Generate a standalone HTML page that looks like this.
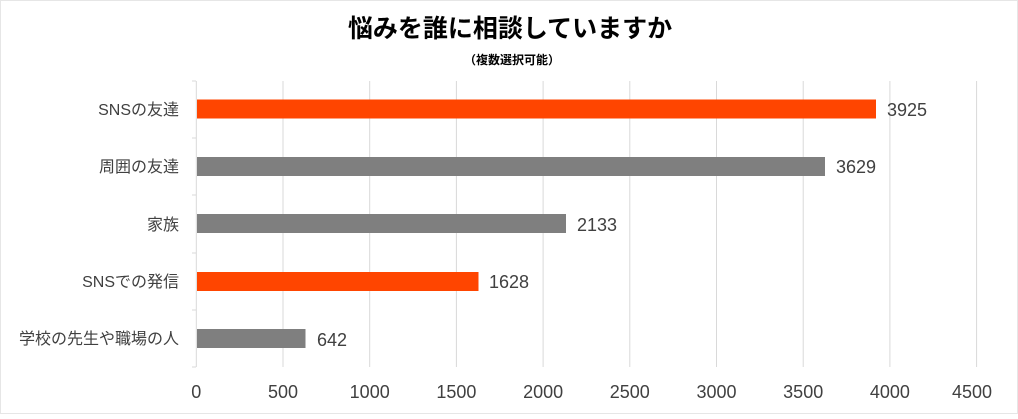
<!DOCTYPE html>
<html><head><meta charset="utf-8"><style>
body{margin:0;background:#fff;}
svg text{font-family:"Liberation Sans","Noto Sans CJK JP",sans-serif;}
</style></head><body>
<svg width="1018" height="414" xmlns="http://www.w3.org/2000/svg">
<rect x="0.5" y="0.5" width="1017" height="413" fill="#fff" stroke="#e6e6e6"/>
<text x="510" y="37" text-anchor="middle" font-size="25" font-weight="bold" fill="#000">悩みを誰に相談していますか</text>
<text x="512" y="64" text-anchor="middle" font-size="12" font-weight="bold" fill="#000">（複数選択可能）</text>
<g stroke="#d9d9d9" stroke-width="1">
<line x1="283" y1="81" x2="283" y2="367"/><line x1="369.7" y1="81" x2="369.7" y2="367"/>
<line x1="456.4" y1="81" x2="456.4" y2="367"/><line x1="543.1" y1="81" x2="543.1" y2="367"/>
<line x1="629.8" y1="81" x2="629.8" y2="367"/><line x1="716.5" y1="81" x2="716.5" y2="367"/>
<line x1="803.2" y1="81" x2="803.2" y2="367"/><line x1="889.9" y1="81" x2="889.9" y2="367"/>
<line x1="976.6" y1="81" x2="976.6" y2="367"/>
<line x1="196.3" y1="81" x2="196.3" y2="367"/>
<line x1="192" y1="81" x2="196" y2="81"/><line x1="192" y1="138" x2="196" y2="138"/>
<line x1="192" y1="195" x2="196" y2="195"/><line x1="192" y1="253" x2="196" y2="253"/>
<line x1="192" y1="310" x2="196" y2="310"/><line x1="192" y1="367" x2="196" y2="367"/>
</g>
<rect x="197" y="99.5" width="679" height="19" fill="#ff4500"/>
<rect x="197" y="157" width="628" height="19" fill="#7f7f7f"/>
<rect x="197" y="214" width="369" height="19" fill="#7f7f7f"/>
<rect x="197" y="272" width="281.5" height="19" fill="#ff4500"/>
<rect x="197" y="329" width="108.5" height="19" fill="#7f7f7f"/>
<g font-size="18" fill="#404040">
<text x="887" y="116">3925</text><text x="836" y="173">3629</text>
<text x="577" y="231">2133</text><text x="489" y="288">1628</text>
<text x="317" y="346">642</text>
</g>
<g font-size="16" fill="#404040" text-anchor="end">
<text x="179" y="115">SNSの友達</text><text x="179" y="172">周囲の友達</text>
<text x="179" y="230">家族</text><text x="179" y="287">SNSでの発信</text>
<text x="179" y="344">学校の先生や職場の人</text>
</g>
<g font-size="18" fill="#404040" text-anchor="middle">
<text x="196.3" y="398">0</text><text x="283" y="398">500</text><text x="369.7" y="398">1000</text>
<text x="456.4" y="398">1500</text><text x="543.1" y="398">2000</text><text x="629.8" y="398">2500</text>
<text x="716.5" y="398">3000</text><text x="803.2" y="398">3500</text><text x="889.9" y="398">4000</text>
<text x="972" y="398">4500</text>
</g>
</svg>
</body></html>
